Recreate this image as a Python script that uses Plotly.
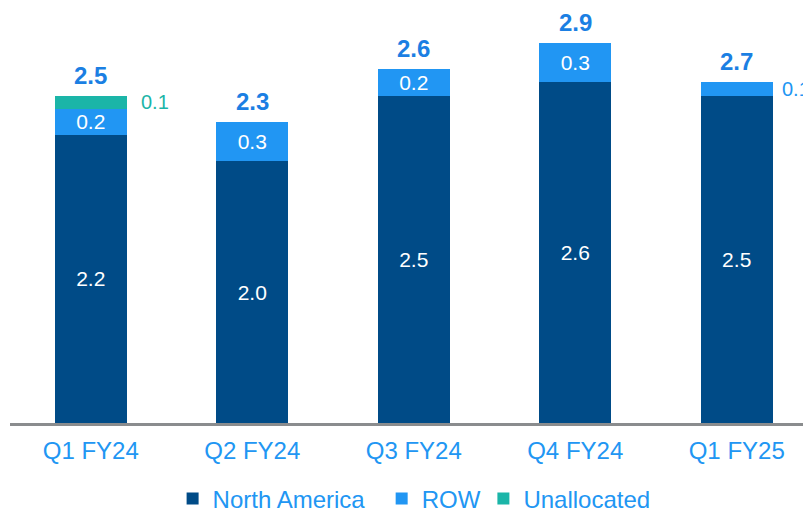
import plotly.graph_objects as go

categories = ["Q1 FY24", "Q2 FY24", "Q3 FY24", "Q4 FY24", "Q1 FY25"]
north_america = [2.2, 2.0, 2.5, 2.6, 2.5]
row = [0.2, 0.3, 0.2, 0.3, 0.1]
unallocated = [0.1, None, None, None, None]
totals = [2.5, 2.3, 2.6, 2.9, 2.7]

C_NA = "#004B87"
C_ROW = "#2196F3"
C_UN = "#1BB5A8"
C_TXT = "#2196F3"
C_TOT = "#1B7FE3"
FONT = "Liberation Sans, Arial, sans-serif"

fig = go.Figure()

fig.add_trace(go.Bar(
    x=categories, y=north_america, name="North America", legend="legend",
    marker=dict(color=C_NA, line=dict(width=0)),
    text=[f"{v:.1f}" for v in north_america],
    textposition="inside", insidetextanchor="middle", constraintext="none",
    textangle=0, textfont=dict(color="white", size=21, family=FONT),
))

row_text = [f"{v:.1f}" if v >= 0.15 else "" for v in row]
fig.add_trace(go.Bar(
    x=categories, y=row, name="ROW", legend="legend2",
    marker=dict(color=C_ROW, line=dict(width=0)),
    text=row_text,
    textposition="inside", insidetextanchor="middle", constraintext="none",
    textangle=0, textfont=dict(color="white", size=21, family=FONT),
))

fig.add_trace(go.Bar(
    x=categories, y=unallocated, name="Unallocated", legend="legend3",
    marker=dict(color=C_UN, line=dict(width=0)),
    textposition="none",
))

annotations = []
for i, c in enumerate(categories):
    top = north_america[i] + row[i] + (unallocated[i] or 0)
    annotations.append(dict(
        x=c, y=top, xref="x", yref="y", text=f"<b>{totals[i]:.1f}</b>",
        showarrow=False, yanchor="bottom", yshift=5,
        font=dict(color=C_TOT, size=24, family=FONT),
    ))

for i, c in enumerate(categories):
    if unallocated[i]:
        mid = north_america[i] + row[i] + unallocated[i] / 2
        annotations.append(dict(
            x=c, y=mid, xref="x", yref="y", text=f"{unallocated[i]:.1f}",
            showarrow=False, xanchor="left", xshift=48,
            font=dict(color=C_UN, size=20, family=FONT),
        ))
    if row[i] < 0.15:
        mid = north_america[i] + row[i] / 2
        annotations.append(dict(
            x=c, y=mid, xref="x", yref="y", text=f"{row[i]:.1f}",
            showarrow=False, xanchor="left", xshift=43,
            font=dict(color=C_ROW, size=20, family=FONT),
        ))

leg_common = dict(
    orientation="h", yref="container", y=0.045, yanchor="middle", xanchor="left",
    font=dict(size=24, color=C_TXT, family=FONT),
    bgcolor="rgba(0,0,0,0)",
)

fig.update_layout(
    barmode="stack",
    bargap=0.554,
    width=811, height=514,
    margin=dict(l=2, r=8, t=22, b=99, autoexpand=False),
    paper_bgcolor="white", plot_bgcolor="white",
    font=dict(family=FONT, color=C_TXT),
    showlegend=True,
    legend=dict(x=0.203, **leg_common),
    legend2=dict(x=0.464, **leg_common),
    legend3=dict(x=0.591, **leg_common),
    annotations=annotations,
    xaxis=dict(
        range=[-0.5, 4.46],
        showline=True, linecolor="#8A8C8E", linewidth=3,
        showgrid=False, zeroline=False, ticks="",
        tickfont=dict(size=24, color=C_TXT, family=FONT),
        ticklabelstandoff=4, automargin=False,
    ),
    yaxis=dict(
        range=[0, 3.0], visible=False, showgrid=False, zeroline=False,
    ),
)

fig.write_html("out.html")
